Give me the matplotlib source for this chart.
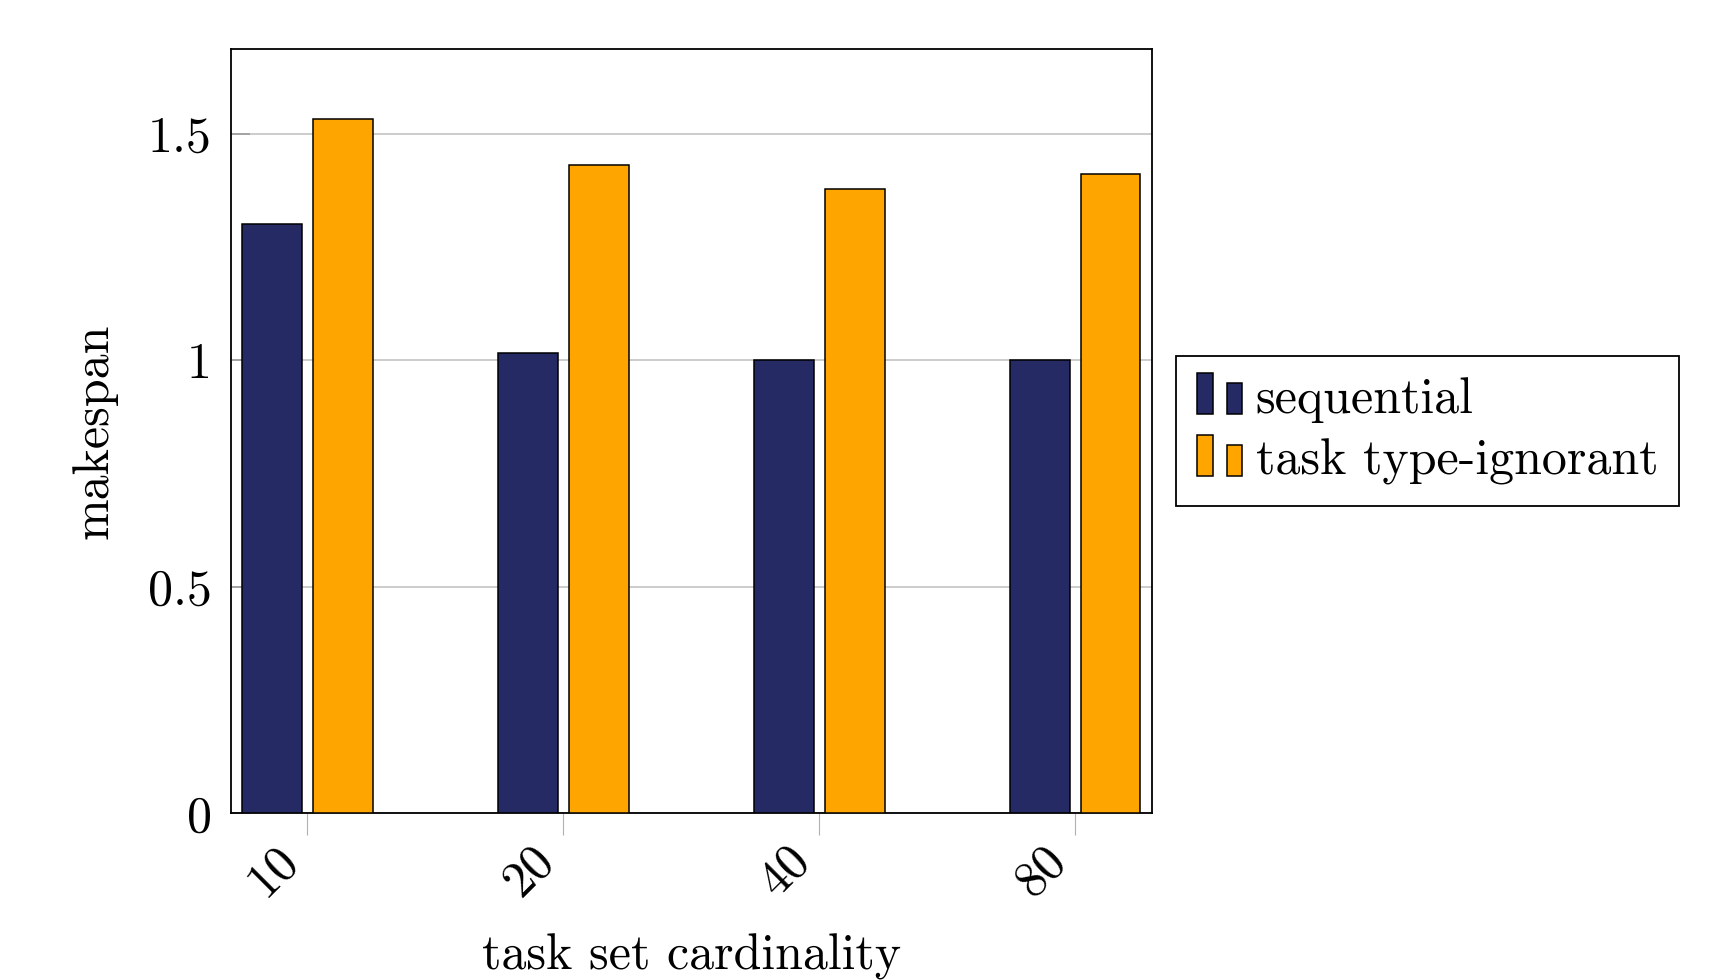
import numpy as np
import matplotlib
matplotlib.use('Agg')
import matplotlib.pyplot as plt
from matplotlib.patches import Rectangle
from matplotlib.legend_handler import HandlerBase

#%% datos
categorias = ['10', '20', '40', '80']
sequential = [1.30, 1.015, 1.0, 1.0]
type_ignorant = [1.533, 1.43, 1.377, 1.412]
series = ['sequential', 'task type-ignorant']
colores = ['#252A64', '#FFA500']

plt.rcParams['font.family'] = 'cmr10'
plt.rcParams['mathtext.fontset'] = 'cm'
plt.rcParams['axes.formatter.use_mathtext'] = True


class HandlerDosBarras(HandlerBase):
    # imagen de leyenda estilo pgfplots ybar: dos barritas de distinta altura
    def create_artists(self, legend, orig_handle, xdescent, ydescent,
                       width, height, fontsize, trans):
        fc = orig_handle.get_facecolor()
        w = width*0.34
        y0 = -ydescent - 0.02*height
        r1 = Rectangle((-xdescent, y0), w, height*1.16,
                       facecolor=fc, edgecolor='k', lw=1.1, transform=trans)
        r2 = Rectangle((-xdescent+width*0.64, y0), w, height*0.87,
                       facecolor=fc, edgecolor='k', lw=1.1, transform=trans)
        return [r1, r2]


#%% grafico
fig = plt.figure(figsize=(17.11, 9.8), dpi=100)
ax = fig.add_axes([0.135, 0.170, 0.538, 0.780])

x = np.arange(len(categorias))
ancho = 0.234
off = 0.138
b1 = ax.bar(x-off, sequential, ancho, color=colores[0], edgecolor='k', lw=1.1,
            label=series[0], zorder=3)
b2 = ax.bar(x+off, type_ignorant, ancho, color=colores[1], edgecolor='k', lw=1.1,
            label=series[1], zorder=3)

ax.set_xlim(-0.298, 3.298)
ax.set_ylim(0, 1.687)
ax.set_xticks(x)
ax.set_xticklabels(categorias, rotation=45, ha='right', va='top',
                   rotation_mode='default')
ax.set_yticks([0, 0.5, 1, 1.5])
ax.set_yticklabels(['0', '0.5', '1', '1.5'])
ax.yaxis.grid(True, color='#c8c8c8', lw=1.3, zorder=0)
ax.tick_params(axis='x', direction='out', length=16, width=0.8, color='#b0b0b0',
               labelsize=36, pad=1)
ax.tick_params(axis='y', direction='in', length=14, width=1.3, color='#a0a0a0',
               labelsize=36, pad=14)
for s in ax.spines.values():
    s.set_linewidth(1.3)

ax.set_xlabel('task set cardinality', fontsize=36, labelpad=21)
ax.set_ylabel('makespan', fontsize=36, labelpad=22)

leg = ax.legend(handles=[b1.patches[0], b2.patches[0]], labels=series,
                handler_map={Rectangle: HandlerDosBarras()},
                loc='center left', bbox_to_anchor=(1.027, 0.5), fontsize=36,
                frameon=True, fancybox=False, edgecolor='k', framealpha=1,
                handlelength=0.92, handletextpad=0.25, borderpad=0.42,
                labelspacing=0.32, borderaxespad=0)
leg.get_frame().set_linewidth(1.3)

fig.savefig('out.png', dpi=100)
